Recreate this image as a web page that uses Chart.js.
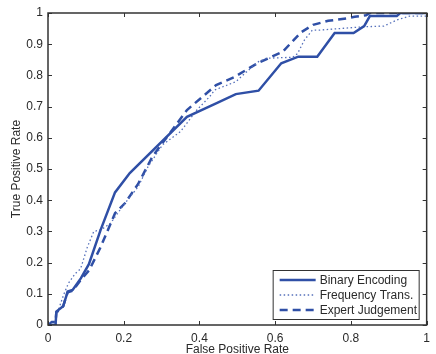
<!DOCTYPE html>
<html>
<head>
<meta charset="utf-8">
<script src="https://cdn.jsdelivr.net/npm/chart.js@4"></script>
<style>
  html, body { margin: 0; padding: 0; background: #fff; }
  #wrap { width: 436px; height: 354px; }
</style>
</head>
<body>
<div id="wrap"><canvas id="roc" width="436" height="354"></canvas></div>
<script>
// ROC curves
const binaryFpr = [0, 0.02, 0.022, 0.04, 0.052, 0.065, 0.087, 0.108, 0.139, 0.177, 0.216, 0.367, 0.444, 0.496, 0.556, 0.616, 0.661, 0.711, 0.757, 0.807, 0.835, 0.85, 0.921, 0.93, 1];
const binaryTpr = [0, 0, 0.043, 0.06, 0.107, 0.112, 0.15, 0.195, 0.305, 0.425, 0.487, 0.667, 0.71, 0.74, 0.751, 0.839, 0.86, 0.86, 0.936, 0.936, 0.958, 0.99, 0.99, 1, 1];

const freqFpr = [0, 0.02, 0.022, 0.028, 0.041, 0.054, 0.072, 0.086, 0.104, 0.121, 0.14, 0.165, 0.2, 0.238, 0.264, 0.302, 0.35, 0.393, 0.427, 0.44, 0.496, 0.525, 0.556, 0.577, 0.646, 0.659, 0.677, 0.698, 0.715, 0.835, 0.887, 0.922, 0.955, 1];
const freqTpr = [0, 0, 0.03, 0.05, 0.096, 0.134, 0.165, 0.18, 0.25, 0.3, 0.305, 0.326, 0.385, 0.443, 0.507, 0.577, 0.62, 0.689, 0.732, 0.753, 0.78, 0.812, 0.844, 0.855, 0.858, 0.87, 0.913, 0.945, 0.945, 0.956, 0.958, 0.978, 0.99, 0.99];

const expertFpr = [0, 0.01, 0.02, 0.022, 0.04, 0.052, 0.065, 0.087, 0.109, 0.139, 0.177, 0.203, 0.238, 0.276, 0.315, 0.367, 0.444, 0.491, 0.553, 0.62, 0.668, 0.7, 0.74, 0.79, 0.81, 0.84, 0.85, 1];
const expertTpr = [0, 0.01, 0.01, 0.04, 0.06, 0.105, 0.11, 0.145, 0.176, 0.25, 0.358, 0.39, 0.452, 0.54, 0.604, 0.689, 0.769, 0.794, 0.839, 0.876, 0.938, 0.962, 0.975, 0.983, 0.988, 0.993, 1, 1];

const seriesNames = ['Binary Encoding', 'Frequency Trans.', 'Expert Judgement'];
const xTicks = [0, 0.2, 0.4, 0.6, 0.8, 1];
const yTicks = [0, 0.1, 0.2, 0.3, 0.4, 0.5, 0.6, 0.7, 0.8, 0.9, 1];

const blue = '#2f4fa6';
const axisColor = '#333333';
const textColor = '#2a2a2a';
const fontFam = '"Liberation Sans", Arial, Helvetica, sans-serif';

function pts(xs, ys) {
    return xs.map((x, i) => ({ x: x, y: ys[i] }));
}

// box around the plot + inward ticks, matlab style
const boxAxes = {
    id: 'boxAxes',
    afterDraw(chart) {
        const { ctx, chartArea: a, scales } = chart;
        ctx.save();
        ctx.strokeStyle = axisColor;
        ctx.lineWidth = 1;
        const len = 4;
        ctx.beginPath();
        xTicks.forEach(v => {
            const px = Math.round(scales.x.getPixelForValue(v)) + 0.5;
            ctx.moveTo(px, a.bottom); ctx.lineTo(px, a.bottom - len);
            ctx.moveTo(px, a.top); ctx.lineTo(px, a.top + len);
        });
        yTicks.forEach(v => {
            const py = Math.round(scales.y.getPixelForValue(v)) + 0.5;
            ctx.moveTo(a.left, py); ctx.lineTo(a.left + len, py);
            ctx.moveTo(a.right, py); ctx.lineTo(a.right - len, py);
        });
        ctx.stroke();
        ctx.lineWidth = 1.5;
        ctx.strokeRect(a.left, a.top, a.right - a.left, a.bottom - a.top);
        ctx.restore();
    }
};

// legend box in lower right corner
const cornerLegend = {
    id: 'cornerLegend',
    afterDraw(chart) {
        const { ctx, chartArea: a } = chart;
        const w = 146, h = 49;
        const x0 = a.right - 8 - w, y0 = a.bottom - 6 - h;
        ctx.save();
        ctx.fillStyle = '#fff';
        ctx.fillRect(x0, y0, w, h);
        ctx.strokeStyle = axisColor;
        ctx.lineWidth = 1;
        ctx.strokeRect(x0 + 0.5, y0 + 0.5, w, h);
        ctx.font = '12px ' + fontFam;
        ctx.textBaseline = 'middle';
        chart.data.datasets.forEach((ds, i) => {
            const cy = y0 + 10 + i * 15;
            ctx.strokeStyle = ds.borderColor;
            ctx.lineWidth = ds.borderWidth;
            ctx.setLineDash(ds.borderDash || []);
            ctx.beginPath();
            ctx.moveTo(x0 + 7, cy);
            ctx.lineTo(x0 + 43, cy);
            ctx.stroke();
            ctx.setLineDash([]);
            ctx.fillStyle = textColor;
            ctx.fillText(ds.label, x0 + 47, cy + 0.5);
        });
        ctx.restore();
    }
};

new Chart(document.getElementById('roc'), {
    type: 'line',
    data: {
        datasets: [{
            label: seriesNames[0],
            data: pts(binaryFpr, binaryTpr),
            borderColor: blue,
            borderWidth: 2.5
        }, {
            label: seriesNames[1],
            data: pts(freqFpr, freqTpr),
            borderColor: '#5570bb',
            borderWidth: 1.3,
            borderDash: [1.5, 2.5]
        }, {
            label: seriesNames[2],
            data: pts(expertFpr, expertTpr),
            borderColor: blue,
            borderWidth: 2.5,
            borderDash: [8, 5]
        }]
    },
    options: {
        responsive: false,
        animation: false,
        events: [],
        elements: { point: { radius: 0 }, line: { tension: 0, fill: false } },
        layout: { padding: { top: 13, right: 1, left: 0, bottom: 0 } },
        plugins: { legend: { display: false }, tooltip: { enabled: false } },
        scales: {
            x: {
                type: 'linear', min: 0, max: 1,
                afterBuildTicks: s => { s.ticks = xTicks.map(v => ({ value: v })); },
                afterFit: s => { s.height = 29; },
                grid: { display: false, drawTicks: false },
                border: { display: false },
                ticks: {
                    padding: 6, color: textColor, maxRotation: 0,
                    font: { family: fontFam, size: 12 },
                    callback: v => String(v)
                },
                title: {
                    display: true, text: 'False Positive Rate', color: textColor,
                    font: { family: fontFam, size: 12 }, padding: { top: 0, bottom: -2.5 }
                }
            },
            y: {
                type: 'linear', min: 0, max: 1,
                afterBuildTicks: s => { s.ticks = yTicks.map(v => ({ value: v })); },
                afterFit: s => { s.width = 48; },
                grid: { display: false, drawTicks: false },
                border: { display: false },
                ticks: {
                    padding: 5, color: textColor,
                    font: { family: fontFam, size: 12 },
                    callback: v => String(Math.round(v * 10) / 10)
                },
                title: {
                    display: true, text: 'True Positive Rate', color: textColor,
                    font: { family: fontFam, size: 12 }, padding: { top: 9, bottom: 0 }
                }
            }
        }
    },
    plugins: [boxAxes, cornerLegend]
});
</script>
</body>
</html>
